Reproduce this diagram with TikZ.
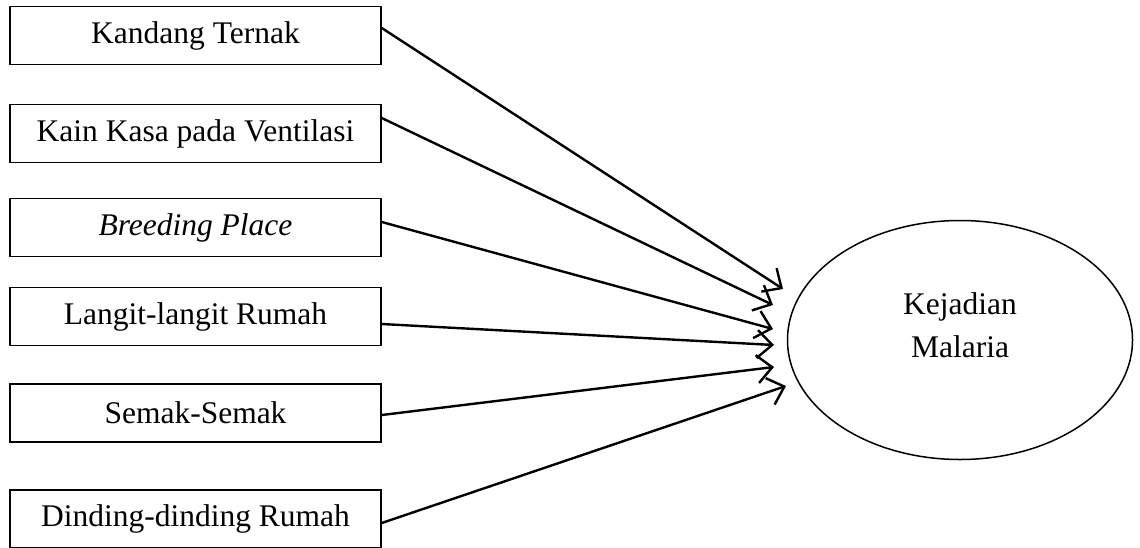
\documentclass[tikz,border=0pt]{standalone}
\usepackage{fontspec}
\setmainfont{Liberation Serif}
\usetikzlibrary{arrows.meta}
\begin{document}
\begin{tikzpicture}[x=1pt,y=-1pt,
  factor/.style={draw,line width=1.5pt,minimum width=371pt,minimum height=58pt,inner sep=0pt,
    font=\fontsize{31.5}{38}\selectfont},
  link/.style={line width=2.4pt,-{Straight Barb[length=15pt,width=28pt,line width=2.4pt]}}]
\useasboundingbox (0,0) rectangle (1140,547);
\node[factor] (b1) at (195.5,35.5) {Kandang Ternak};
\node[factor] (b2) at (195.5,133.5) {Kain Kasa pada Ventilasi};
\node[factor] (b3) at (195.5,227.5) {\itshape Breeding Place};
\node[factor] (b4) at (195.5,316.5) {Langit-langit Rumah};
\node[factor] (b5) at (195.5,413) {Semak-Semak};
\node[factor] (b6) at (195.5,519) {Dinding-dinding Rumah};
\draw[line width=1.5pt] (960,340) ellipse [x radius=172.5, y radius=119.5];
\node[align=center,font=\fontsize{31.5}{42.7}\selectfont] (km) at (960,325) {Kejadian\\Malaria};
\coordinate (t1) at (783,289);
\coordinate (t2) at (773,305);
\coordinate (t3) at (773,329);
\coordinate (t4) at (774,345);
\coordinate (t5) at (774,367);
\coordinate (t6) at (786,386);
\draw[link] ([yshift=7.5pt]b1.east) -- (t1);
\draw[link] ([yshift=15.5pt]b2.east) -- (t2);
\draw[link] ([yshift=5.5pt]b3.east) -- (t3);
\draw[link] ([yshift=-7.5pt]b4.east) -- (t4);
\draw[link] ([yshift=-2pt]b5.east) -- (t5);
\draw[link] ([yshift=-4pt]b6.east) -- (t6);
\end{tikzpicture}
\end{document}
